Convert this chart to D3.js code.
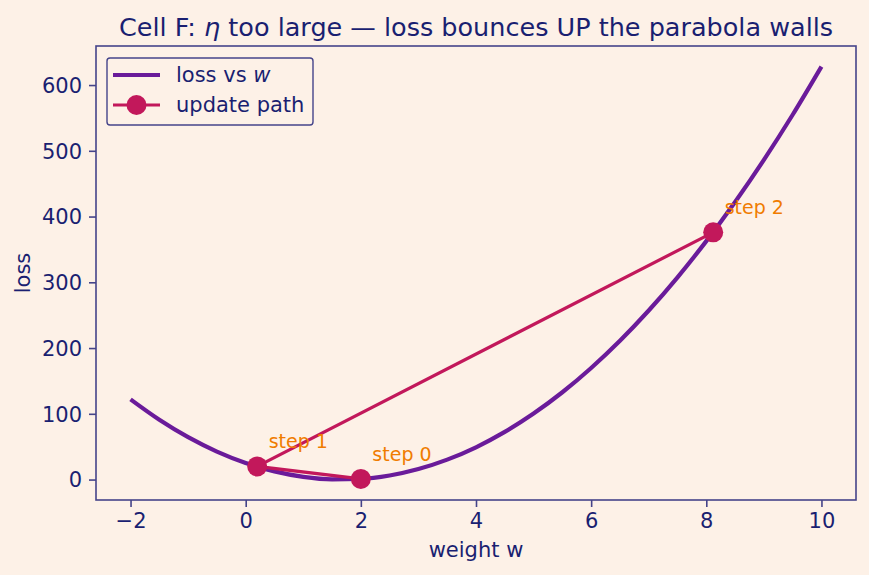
<!DOCTYPE html>
<html>
<head>
<meta charset="utf-8">
<script src="https://cdn.jsdelivr.net/npm/d3@7"></script>
<style>
  html, body { margin: 0; padding: 0; background: #fdf1e7; }
  svg { display: block; font-family: "DejaVu Sans", sans-serif; }
</style>
</head>
<body>
<svg id="chart" width="869" height="575"></svg>
<script>
// Loss curve
const curveW = [-2, -1.5, -1, -0.5, 0, 0.5, 1, 1.5, 2, 2.5, 3, 3.5, 4, 4.5, 5, 5.5, 6, 6.5, 7, 7.5, 8, 8.5, 9, 9.5, 10];
const curveLoss = [122, 91, 64.5, 42.6, 25.2, 12.4, 4.1, 0.3, 1.0, 6.2, 16.0, 30.3, 49.1, 72.5, 100.4, 132.8, 169.7, 211.1, 257.1, 307.6, 362.6, 422.2, 486.2, 554.8, 628];
// Update path
const stepW = [2.0, 0.2, 8.12];
const stepLoss = [1.0, 20, 376];
const stepLabels = ["step 0", "step 1", "step 2"];
const xTicks = [-2, 0, 2, 4, 6, 8, 10];
const yTicks = [0, 100, 200, 300, 400, 500, 600];

const C = {
  bg: "#fdf1e7", text: "#1a1f71", frame: "#45448a",
  curve: "#6a1b9a", path: "#c2185b", ann: "#f07c00"
};

const svg = d3.select("#chart");
const m = { left: 96, right: 856, top: 46, bottom: 500 };

const xs = d3.scaleLinear().domain([-2.6, 10.6]).range([m.left, m.right]);
const yMin = 0.3, yMax = 628, pad = (yMax - yMin) * 0.05;
const ys = d3.scaleLinear().domain([yMin - pad, yMax + pad]).range([m.bottom, m.top]);

svg.append("rect").attr("width", 869).attr("height", 575).attr("fill", C.bg);

// axes
const xAxis = svg.append("g").attr("transform", `translate(0,${m.bottom})`)
  .call(d3.axisBottom(xs).tickValues(xTicks).tickSize(7).tickPadding(6)
    .tickFormat(d => d < 0 ? "\u2212" + Math.abs(d) : d));
const yAxis = svg.append("g").attr("transform", `translate(${m.left},0)`)
  .call(d3.axisLeft(ys).tickValues(yTicks).tickSize(7).tickPadding(7));
[xAxis, yAxis].forEach(a => {
  a.select(".domain").remove();
  a.selectAll("line").attr("stroke", C.frame).attr("stroke-width", 1.6);
  a.selectAll("text").attr("fill", C.text).attr("font-size", 21)
    .attr("font-family", "DejaVu Sans");
});
yAxis.selectAll("text").attr("dy", "0.35em");

// frame
svg.append("rect").attr("x", m.left).attr("y", m.top)
  .attr("width", m.right - m.left).attr("height", m.bottom - m.top)
  .attr("fill", "none").attr("stroke", C.frame).attr("stroke-width", 1.6);

// curve
const curveData = curveW.map((w, i) => [w, curveLoss[i]]);
svg.append("path").datum(curveData)
  .attr("d", d3.line().x(d => xs(d[0])).y(d => ys(d[1])).curve(d3.curveMonotoneX))
  .attr("fill", "none").attr("stroke", C.curve).attr("stroke-width", 4.2);

// path
const stepData = stepW.map((w, i) => [w, stepLoss[i]]);
svg.append("path").datum(stepData)
  .attr("d", d3.line().x(d => xs(d[0])).y(d => ys(d[1])))
  .attr("fill", "none").attr("stroke", C.path).attr("stroke-width", 3.2);
svg.selectAll("circle.pt").data(stepData).enter().append("circle")
  .attr("cx", d => xs(d[0])).attr("cy", d => ys(d[1])).attr("r", 10)
  .attr("fill", C.path);
svg.selectAll("text.ann").data(stepData).enter().append("text")
  .attr("x", d => xs(d[0]) + 11.5).attr("y", d => ys(d[1]) - 18)
  .attr("fill", C.ann).attr("font-size", 19).text((d, i) => stepLabels[i]);

// title
const title = svg.append("text").attr("x", (m.left + m.right) / 2).attr("y", 36)
  .attr("text-anchor", "middle").attr("fill", C.text).attr("font-size", 25.5);
title.append("tspan").text("Cell F: ");
title.append("tspan").attr("font-style", "italic").text("\u03b7");
title.append("tspan").text(" too large \u2014 loss bounces UP the parabola walls");

// axis labels
svg.append("text").attr("x", (m.left + m.right) / 2).attr("y", 557)
  .attr("text-anchor", "middle").attr("fill", C.text).attr("font-size", 21).text("weight w");
svg.append("text").attr("transform", `translate(30,${(m.top + m.bottom) / 2}) rotate(-90)`)
  .attr("text-anchor", "middle").attr("fill", C.text).attr("font-size", 21).text("loss");

// legend
const lg = svg.append("g");
lg.append("rect").attr("x", 107).attr("y", 58).attr("width", 206).attr("height", 67)
  .attr("rx", 3).attr("fill", C.bg).attr("stroke", C.frame).attr("stroke-width", 1.4);
lg.append("line").attr("x1", 113).attr("x2", 160).attr("y1", 75).attr("y2", 75)
  .attr("stroke", C.curve).attr("stroke-width", 4.2);
lg.append("line").attr("x1", 113).attr("x2", 160).attr("y1", 105).attr("y2", 105)
  .attr("stroke", C.path).attr("stroke-width", 3.2);
lg.append("circle").attr("cx", 136.5).attr("cy", 105).attr("r", 10).attr("fill", C.path);
const l1 = lg.append("text").attr("x", 176).attr("y", 82).attr("fill", C.text).attr("font-size", 21);
l1.append("tspan").text("loss vs ");
l1.append("tspan").attr("font-style", "italic").text("w");
lg.append("text").attr("x", 176).attr("y", 112).attr("fill", C.text).attr("font-size", 21).text("update path");
</script>
</body>
</html>
